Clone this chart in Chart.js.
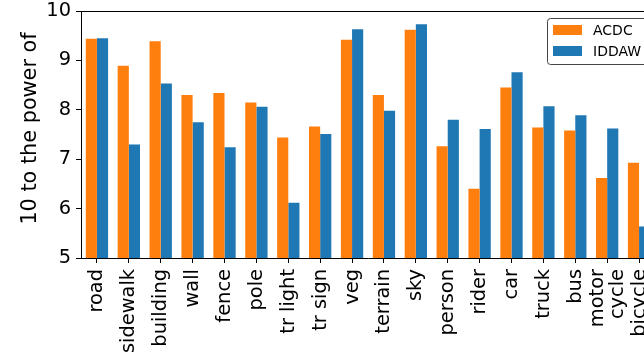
<!DOCTYPE html>
<html>
<head>
<meta charset="utf-8">
<script src="https://cdn.jsdelivr.net/npm/chart.js@4/dist/chart.umd.min.js"></script>
<style>
html,body{margin:0;padding:0;overflow:hidden;background:#fff;width:644px;height:356px;}
#c{position:absolute;left:0;top:0;}
</style>
</head>
<body>
<canvas id="c" width="670" height="356"></canvas>
<script>
const categories = ["road","sidewalk","building","wall","fence","pole","tr light","tr sign","veg","terrain","sky","person","rider","car","truck","bus",["motor","cycle"],"bicycle"];
const acdcValues  = [9.44,8.89,9.39,8.30,8.34,8.15,7.44,7.66,9.42,8.30,9.62,7.26,6.40,8.45,7.64,7.58,6.62,6.93];
const iddawValues = [9.45,7.30,8.53,7.75,7.24,8.06,6.12,7.51,9.63,7.98,9.73,7.80,7.61,8.76,8.07,7.89,7.62,5.64];
const seriesNames = ["ACDC","IDDAW"];
const seriesColors = ["#ff7f0e","#1f77b4"];
const yTitle = "10 to the power of";

const FONT = "'DejaVu Sans', sans-serif";

const framePlugin = {
  id: 'frame',
  afterDraw(chart) {
    const ctx = chart.ctx, a = chart.chartArea;
    ctx.save();
    ctx.strokeStyle = '#000';
    ctx.lineWidth = 1;
    ctx.beginPath();
    ctx.moveTo(a.left, Math.round(a.top) + 0.5);
    ctx.lineTo(a.right, Math.round(a.top) + 0.5);
    ctx.lineTo(a.right, a.bottom);
    ctx.stroke();
    // y title
    ctx.fillStyle = '#000';
    ctx.font = "20.8px " + FONT;
    ctx.textAlign = 'center';
    ctx.textBaseline = 'middle';
    ctx.translate(31, 128.5);
    ctx.rotate(-Math.PI / 2);
    ctx.fillText(yTitle, 0, 0);
    ctx.restore();
    // x tick labels (positions from the category scale)
    const xs = chart.scales.x;
    ctx.save();
    ctx.fillStyle = '#000';
    ctx.font = "19.4px " + FONT;
    ctx.textAlign = 'right';
    ctx.textBaseline = 'middle';
    const lh = 20;
    categories.forEach((lab, i) => {
      const lines = Array.isArray(lab) ? lab : [lab];
      const px = xs.getPixelForTick(i);
      lines.forEach((ln, j) => {
        const dx = (j - (lines.length - 1) / 2) * lh;
        ctx.save();
        ctx.translate(px + dx + 0.5, a.bottom + 11);
        ctx.rotate(-Math.PI / 2);
        ctx.fillText(ln, 0, 0);
        ctx.restore();
      });
    });
    ctx.restore();
    // legend
    ctx.save();
    const x0 = 547, y0 = 18.5, w = 120, h = 46, r = 3;
    ctx.fillStyle = 'rgba(255,255,255,0.8)';
    ctx.strokeStyle = '#444';
    ctx.lineWidth = 1;
    ctx.beginPath();
    ctx.roundRect(x0 + 0.5, y0, w, h, r);
    ctx.fill();
    ctx.stroke();
    ctx.font = "14px " + FONT;
    ctx.textAlign = 'left';
    ctx.textBaseline = 'middle';
    const rows = [30, 51];
    for (let i = 0; i < seriesNames.length; i++) {
      ctx.fillStyle = seriesColors[i];
      ctx.fillRect(553, rows[i] - 5, 29, 10);
      ctx.fillStyle = '#000';
      ctx.fillText(seriesNames[i], 593, rows[i] + 1);
    }
    ctx.restore();
  }
};

new Chart(document.getElementById('c'), {
  type: 'bar',
  data: {
    labels: categories,
    datasets: [
      { label: seriesNames[0], data: acdcValues, backgroundColor: seriesColors[0], borderWidth: 0 },
      { label: seriesNames[1], data: iddawValues, backgroundColor: seriesColors[1], borderWidth: 0 }
    ]
  },
  options: {
    responsive: false,
    animation: false,
    devicePixelRatio: 1,
    layout: { padding: { left: 0, right: 15, top: 11, bottom: 0 } },
    datasets: { bar: { categoryPercentage: 0.7, barPercentage: 1.0 } },
    plugins: { legend: { display: false }, tooltip: { enabled: false } },
    scales: {
      x: {
        offset: true,
        grid: { display: true, drawOnChartArea: false, drawTicks: true, tickLength: 5, color: '#000', offset: false },
        border: { display: true, color: '#000', width: 1 },
        ticks: { display: false, autoSkip: false },
        afterFit(scale) { scale.height = 98; scale.paddingLeft = 0; scale.paddingRight = 0; }
      },
      y: {
        min: 5, max: 10,
        grid: { display: true, drawOnChartArea: false, drawTicks: true, tickLength: 5, color: '#000' },
        border: { display: true, color: '#000', width: 1 },
        ticks: { stepSize: 1, color: '#000', font: { family: FONT, size: 19.4 }, padding: 5 },
        afterFit(scale) { scale.width = 81; scale.paddingTop = 0; scale.paddingBottom = 0; }
      }
    }
  },
  plugins: [framePlugin]
});
</script>
</body>
</html>
